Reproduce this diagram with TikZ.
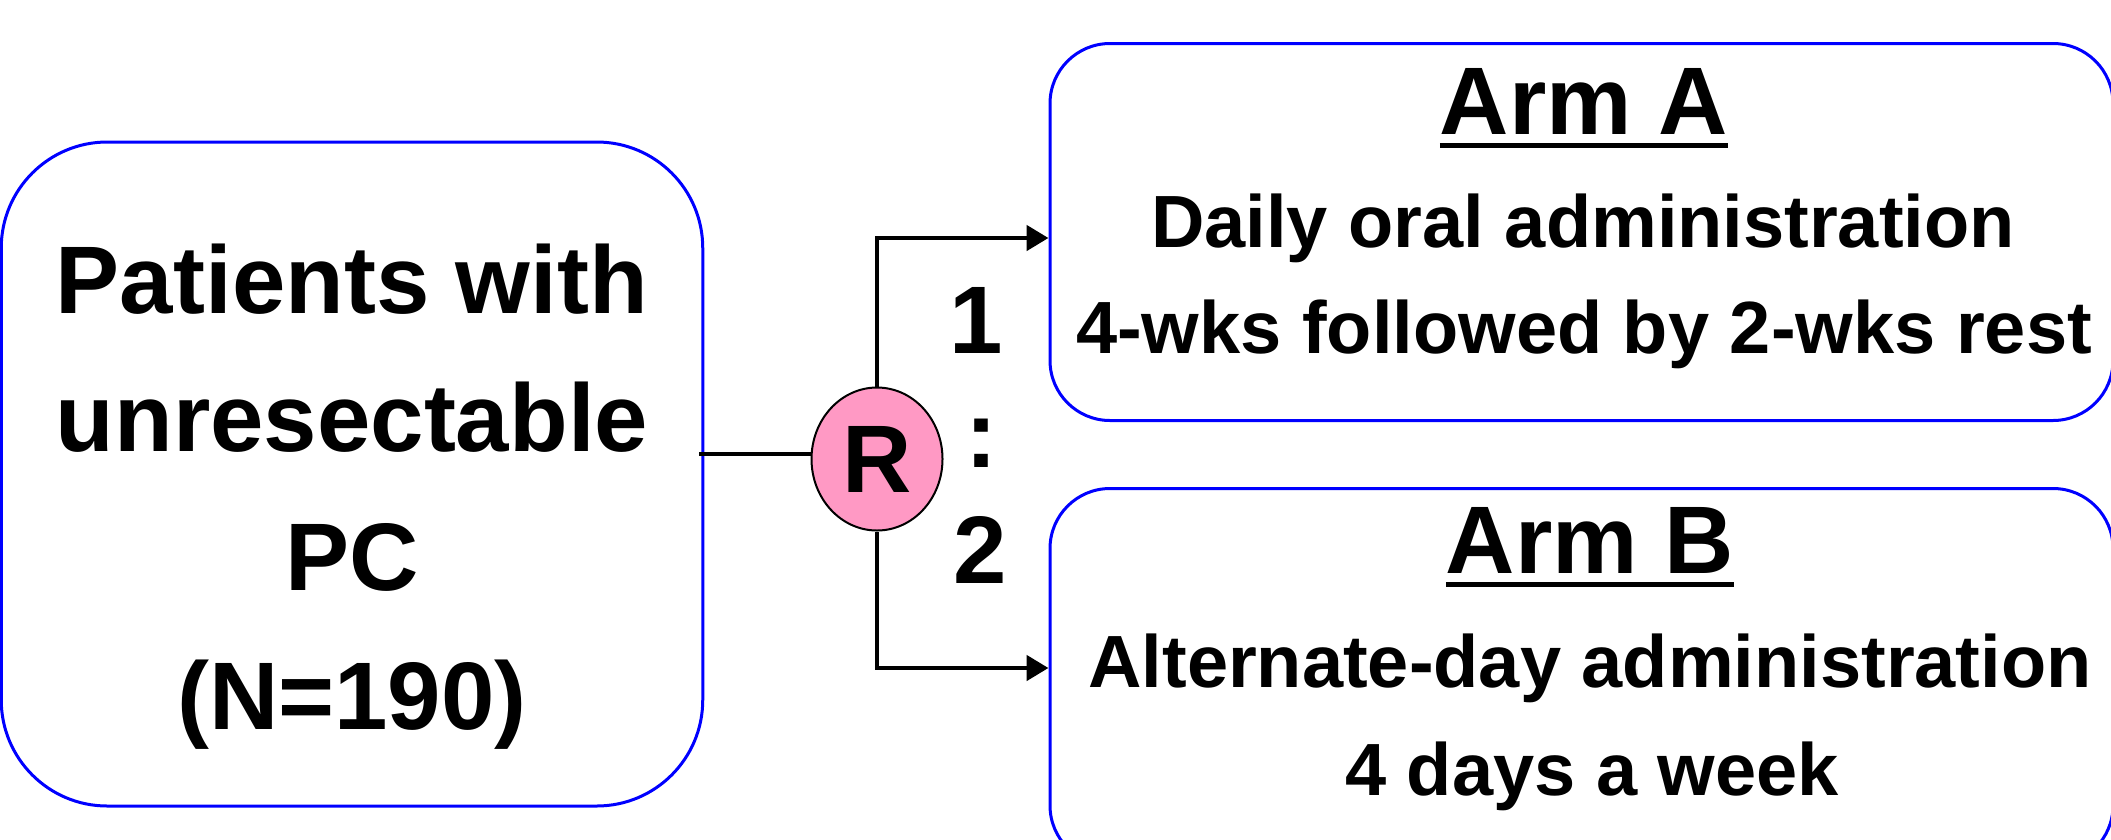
\documentclass[tikz,border=0pt]{standalone}
\usepackage{fontspec}
\setmainfont{Liberation Sans}
\usetikzlibrary{arrows.meta,shapes.geometric}
\definecolor{boxblue}{RGB}{0,0,255}
\definecolor{randpink}{RGB}{255,153,196}

\begin{document}
\begin{tikzpicture}[x=1pt,y=-1pt,
  panel/.style={draw=boxblue, line width=3pt, rounded corners=#1, inner sep=0pt},
  txt/.style={inner sep=0pt, anchor=base, font=\bfseries\fontsize{#1}{#1}\selectfont},
  link/.style={line width=4.8pt},
  flow/.style={link, -{Triangle[length=22pt,width=25pt]}},
  uline/.style={line width=5pt},
]
\useasboundingbox (0,0) rectangle (2111,839);

% population box
\node[panel=106, minimum width=701.5pt, minimum height=664pt] (pts) at (352,474) {};
\node[txt=96] (p1) at (352,313) {Patients with};
\node[txt=96] (p2) at (352,451) {unresectable};
\node[txt=96] (p3) at (352,590) {PC};
\node[txt=96] (p4) at (352,729) {(N=190)};

% treatment arms
\node[panel=60, minimum width=1063pt, minimum height=377pt] (armA) at (1581.5,232) {};
\node[txt=96] (aT) at (1584,134) {Arm A};
\draw[uline] ([yshift=-11pt]aT.base west) -- ([yshift=-11pt]aT.base east);
\node[txt=74] (a1) at (1583,247) {Daily oral administration};
\node[txt=74] (a2) at (1584,353) {4-wks followed by 2-wks rest};

\node[panel=60, minimum width=1063pt, minimum height=377pt] (armB) at (1581.5,677) {};
\node[txt=96] (bT) at (1590,573) {Arm B};
\draw[uline] ([yshift=-11.5pt]bT.base west) -- ([yshift=-11.5pt]bT.base east);
\node[txt=74] (b1) at (1590,687) {Alternate-day administration};
\node[txt=74] (b2) at (1592,795) {4 days a week};

% randomisation
\node[draw, line width=2pt, fill=randpink, ellipse, minimum width=131pt,
      minimum height=143pt, inner sep=0pt,
      font=\bfseries\fontsize{96}{96}\selectfont] (R) at (877,459) {R};

\coordinate (split) at ([yshift=5pt]R.west);
\draw[link] ([xshift=-5pt]split -| pts.east) -- (split);
\draw[flow] (R.north) |- ([yshift=-6pt]armA.west);
\draw[flow] (R.south) |- ([yshift=9pt]armB.west);

% allocation ratio
\node[txt=96] (one) at (976,353) {1};
\node[txt=96] (colon) at (981,467) {:};
\node[txt=96] (two) at (980,583) {2};
\end{tikzpicture}
\end{document}
